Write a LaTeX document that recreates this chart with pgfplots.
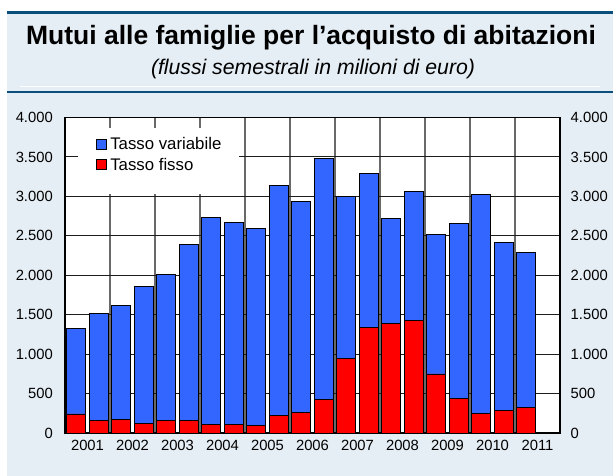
\documentclass[border=0pt]{standalone}
\usepackage{pgfplots}
\pgfplotsset{compat=1.18}
\usepackage{fontspec}
\setmainfont{Liberation Sans}
\definecolor{bgblue}{HTML}{E6EEF5}
\definecolor{lineblue}{HTML}{0A4F7B}
\definecolor{barblue}{HTML}{3366FF}
\definecolor{barred}{HTML}{FF0000}
\begin{document}
\begin{tikzpicture}[x=1pt,y=1pt]
\useasboundingbox (0,0) rectangle (613,476);
\fill[white] (0,0) rectangle (613,476);
\fill[bgblue] (7,0) rectangle (613,464);
\draw[lineblue, line width=2.5pt] (7,463.5) -- (613,463.5);
\node[anchor=base, inner sep=0pt] at (311,431.7) {\fontsize{26.5}{31}\selectfont\bfseries Mutui alle famiglie per l’acquisto di abitazioni};
\node[anchor=base, inner sep=0pt] at (313,401.7) {\fontsize{21.2}{25}\selectfont\itshape (flussi semestrali in milioni di euro)};
\draw[white, line width=0.8pt] (20,390) -- (600,390);
\draw[lineblue, line width=2.5pt] (7,384) -- (613,384);

\begin{axis}[
  at={(65pt,43pt)}, anchor=south west,
  width=495pt, height=315.5pt, scale only axis,
  ybar stacked, bar width=19pt,
  xmin=0, xmax=22, ymin=0, ymax=4000,
  axis background/.style={fill=white},
  axis line style={black, line width=1.2pt},
  xtick={1,3,...,21},
  xticklabels={2001,2002,2003,2004,2005,2006,2007,2008,2009,2010,2011},
  minor xtick={2,4,...,20},
  xminorgrids=true, xmajorgrids=false, ymajorgrids=true,
  minor grid style={draw={rgb,255:red,105;green,105;blue,105}, line width=1.8pt},
  major grid style={draw={rgb,255:red,30;green,30;blue,30}, line width=0.9pt},
  ytick={0,500,...,4000},
  major tick length=0pt, minor tick length=0pt,
  /pgf/number format/assume math mode=true,
  /pgf/number format/1000 sep={.},
  ticklabel style={font=\fontsize{14.8}{17}\selectfont},
  xticklabel style={inner sep=0pt, yshift=-6.5pt},
  yticklabel style={inner sep=0pt, xshift=-12pt},
  reverse legend,
  legend image code/.code={\draw[#1, draw=black, line width=0.6pt] (0pt,-5pt) rectangle (10pt,5pt);},
  legend style={at={(0,1)}, anchor=north west, xshift=31pt, yshift=-18.5pt,
    draw=none, fill=none, inner sep=0pt, row sep=3.5pt, column sep=2pt,
    font=\fontsize{16.8}{19}\selectfont,
    nodes={inner sep=1.5pt}},
  legend cell align=left,
]
\fill[white] (rel axis cs:0.026,0.7565) rectangle (rel axis cs:0.3515,0.9667);
\addplot[fill=barred, draw=black, line width=0.7pt] coordinates {
(0.5,241) (1.5,161) (2.5,173) (3.5,122) (4.5,161) (5.5,156) (6.5,110) (7.5,110)
(8.5,97) (9.5,224) (10.5,262) (11.5,431) (12.5,942) (13.5,1340) (14.5,1394)
(15.5,1423) (16.5,748) (17.5,440) (18.5,253) (19.5,291) (20.5,326)};
\addlegendentry{Tasso fisso}
\addplot[fill=barblue, draw=black, line width=0.7pt] coordinates {
(0.5,1086) (1.5,1356) (2.5,1445) (3.5,1741) (4.5,1850) (5.5,2239) (6.5,2624) (7.5,2556)
(8.5,2501) (9.5,2915) (10.5,2674) (11.5,3050) (12.5,2061) (13.5,1951) (14.5,1331)
(15.5,1640) (16.5,1774) (17.5,2217) (18.5,2767) (19.5,2121) (20.5,1968)};
\addlegendentry{Tasso variabile}
\end{axis}

\begin{axis}[
  at={(65pt,43pt)}, anchor=south west,
  width=495pt, height=315.5pt, scale only axis,
  xmin=0, xmax=22, ymin=0, ymax=4000,
  hide x axis,
  axis y line*=right, y axis line style={draw=none},
  ytick={0,500,...,4000},
  major tick length=0pt,
  /pgf/number format/assume math mode=true,
  /pgf/number format/1000 sep={.},
  ticklabel style={font=\fontsize{14.8}{17}\selectfont},
  yticklabel style={inner sep=0pt, xshift=10.5pt},
]
\addplot[draw=none] coordinates {(0,0)};
\end{axis}
\end{tikzpicture}
\end{document}
